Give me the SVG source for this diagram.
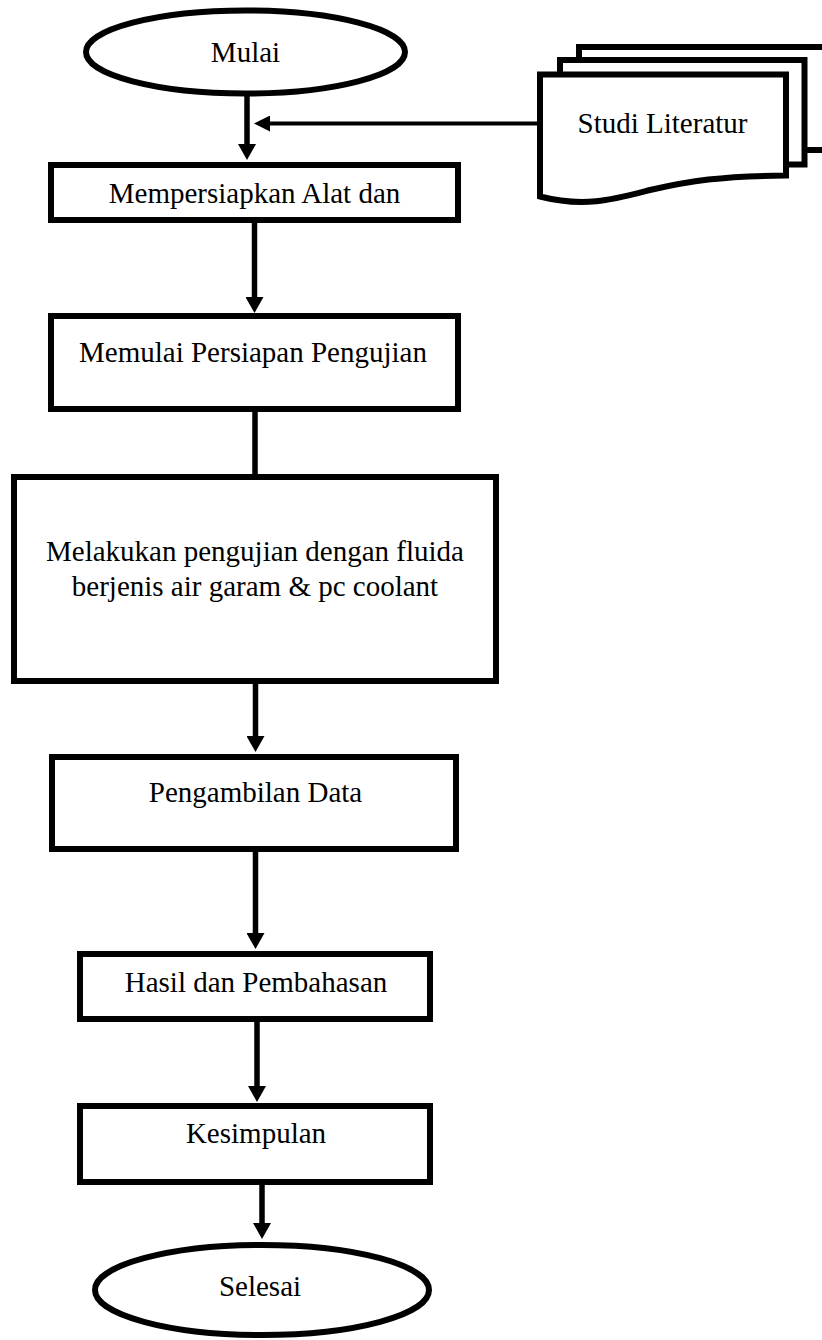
<svg xmlns="http://www.w3.org/2000/svg" width="822" height="1340" viewBox="0 0 822 1340">
<style>
.shape{fill:#fff;stroke:#000;stroke-width:6}
.sheet{fill:none;stroke:#000;stroke-width:6}
.lbl{font-family:"Liberation Serif","Times New Roman",serif;font-size:29px;fill:#000;text-anchor:middle}
.conn{stroke:#000;stroke-width:5.5;fill:none}
.conn-h{stroke:#000;stroke-width:4;fill:none}
</style>
<defs>
<marker id="ah" markerUnits="userSpaceOnUse" viewBox="0 0 16 18" refX="0" refY="9" markerWidth="16" markerHeight="18" orient="auto">
<path d="M0,0 L16,9 L0,18 Z" fill="#000"/>
</marker>
<marker id="ahs" markerUnits="userSpaceOnUse" viewBox="0 0 16 16" refX="0" refY="8" markerWidth="16" markerHeight="16" orient="auto">
<path d="M0,0 L16,8 L0,16 Z" fill="#000"/>
</marker>
</defs>
<rect width="822" height="1340" fill="#fff"/>
<g id="connectors">
<line class="conn" x1="247" y1="96" x2="247" y2="144" marker-end="url(#ah)"/>
<line class="conn-h" x1="540" y1="123.5" x2="270" y2="123.5" marker-end="url(#ahs)"/>
<line class="conn" x1="254.5" y1="222" x2="254.5" y2="297" marker-end="url(#ah)"/>
<line class="conn" x1="255" y1="411" x2="255" y2="476"/>
<line class="conn" x1="255.5" y1="683" x2="255.5" y2="736" marker-end="url(#ah)"/>
<line class="conn" x1="255.5" y1="851" x2="255.5" y2="933" marker-end="url(#ah)"/>
<line class="conn" x1="257" y1="1021" x2="257" y2="1086" marker-end="url(#ah)"/>
<line class="conn" x1="262" y1="1184" x2="262" y2="1223" marker-end="url(#ah)"/>
</g>
<g id="mulai">
<ellipse class="shape" cx="245.5" cy="52" rx="159.5" ry="41.5"/>
<text class="lbl" x="245.5" y="62">Mulai</text>
</g>
<g id="studi-literatur">
<polyline class="sheet" points="579,58 579,47 830,47 830,150 804.5,150"/>
<polyline class="sheet" points="560,72 560,60 804.5,60 804.5,164.5 786,164.5" style="fill:#fff"/>
<path class="shape" d="M540,74.5 H786 V175.5 C720,176 690,181 650,190 C615,199 585,208 540,196.5 Z"/>
<text class="lbl" x="662.5" y="133">Studi Literatur</text>
</g>
<g id="box1">
<rect class="shape" x="51" y="165" width="407" height="55"/>
<text class="lbl" x="254.5" y="203">Mempersiapkan Alat dan</text>
</g>
<g id="box2">
<rect class="shape" x="51" y="316" width="407" height="93"/>
<text class="lbl" x="253" y="362">Memulai Persiapan Pengujian</text>
</g>
<g id="box3">
<rect class="shape" x="14" y="477" width="482" height="204"/>
<text class="lbl" x="255" y="561">Melakukan pengujian dengan fluida</text>
<text class="lbl" x="255" y="596">berjenis air garam &amp; pc coolant</text>
</g>
<g id="box4">
<rect class="shape" x="52" y="757" width="404" height="92"/>
<text class="lbl" x="255.5" y="802">Pengambilan Data</text>
</g>
<g id="box5">
<rect class="shape" x="80" y="954" width="350" height="65"/>
<text class="lbl" x="256" y="992">Hasil dan Pembahasan</text>
</g>
<g id="box6">
<rect class="shape" x="80" y="1106" width="350" height="76"/>
<text class="lbl" x="256" y="1143">Kesimpulan</text>
</g>
<g id="selesai">
<ellipse class="shape" cx="262" cy="1290" rx="167" ry="45"/>
<text class="lbl" x="260" y="1296">Selesai</text>
</g>
</svg>
